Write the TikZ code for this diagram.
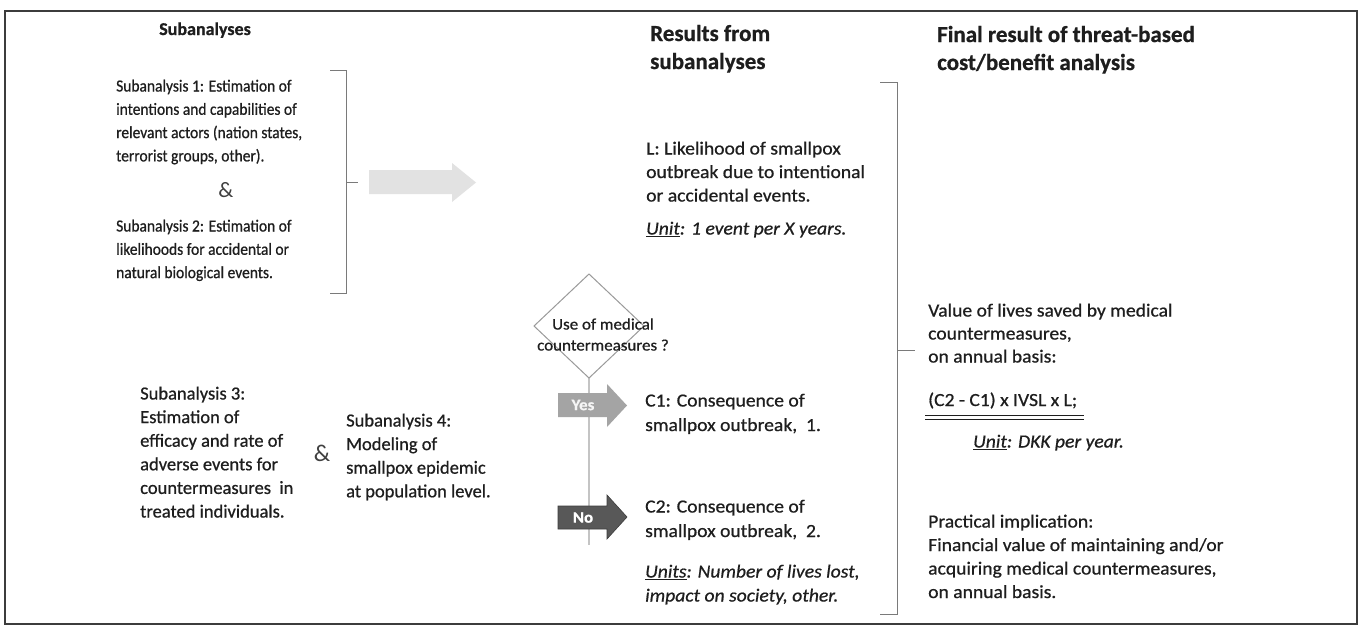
\documentclass[tikz,border=0pt]{standalone}
\usepackage{fontspec}
\setmainfont{Carlito}[FakeBold=0.7]
\newfontfamily\fcond{Carlito}[FakeStretch=0.91,FakeBold=0.7]
\newfontfamily\fwide{Carlito}[FakeStretch=1.06,FakeBold=0.7]
\newfontfamily\famp{Carlito}
\newcommand\mylinesl[1]{\vtop{\halign{##\hfil\cr#1\crcr}}}
\newcommand\mylinesc[1]{\vtop{\halign{\hfil##\hfil\cr#1\crcr}}}
\definecolor{ink}{HTML}{1E1E1E}
\definecolor{framec}{HTML}{3C3C3C}
\definecolor{brackc}{HTML}{7A7A7A}
\definecolor{diamc}{HTML}{9A9A9A}
\definecolor{vlinec}{HTML}{C4C4C4}
\definecolor{bigarr}{HTML}{E2E2E2}
\definecolor{yesc}{HTML}{A4A4A4}
\definecolor{noc}{HTML}{585858}
\begin{document}
\begin{tikzpicture}[x=1pt,y=-1pt,
  txt/.style={inner sep=0pt, anchor=base west, text=ink},
  condtxt/.style={txt, font={\fcond\fontsize{17}{23.3}\selectfont}},
  normtxt/.style={txt, font={\fontsize{18.5}{23.6}\selectfont}},
  widetxt/.style={txt, font={\fwide\fontsize{18.5}{24.5}\selectfont}},
  headsmall/.style={inner sep=0pt, anchor=base, text=ink, font={\bfseries\fontsize{18}{22}\selectfont}},
  headbig/.style={txt, font={\bfseries\fontsize{23}{28}\selectfont}},
  ampstyle/.style={inner sep=0pt, text=ink!85, font={\famp\fontsize{22}{24}\selectfont}},
  brack/.style={draw=brackc, line width=1pt},
  lbl/.style={inner sep=0pt, text=white, font={\bfseries\fwide\fontsize{16}{18}\selectfont}}
]
\useasboundingbox (0,0) rectangle (1360,627);
\fill[white] (0,0) rectangle (1360,627);
% outer frame
\draw[framec, line width=2.2pt] (5,11) rectangle (1357,624);

% headers
\node[headsmall] (hsub) at (205,35) {Subanalyses};
\node[headbig] (hres) at (650,41) {\mylinesl{Results from\cr subanalyses}};
\node[headbig] (hfin) at (937,42) {\mylinesl{Final result of threat-based\cr cost/benefit analysis}};

% upper-left subanalyses
\node[condtxt] (s1) at (116,91.5) {\mylinesl{Subanalysis 1: Estimation of\cr intentions and capabilities of\cr relevant actors (nation states,\cr terrorist groups, other).}};
\node[ampstyle] (amp1) at (226,190) {\&};
\node[condtxt] (s2) at (116,231.5) {\mylinesl{Subanalysis 2: Estimation of\cr likelihoods for accidental or\cr natural biological events.}};

% bracket 1
\coordinate (b1t) at (346,70);
\coordinate (b1b) at (346,293);
\coordinate (b1m) at (346,182);
\draw[brack] (330,70) -- (b1t) -- (b1b) -- (330,293);
\draw[brack] (b1m) -- (358,182);

% big arrow
\fill[bigarr] (369,170) -- (452,170) -- (452,163) -- (476,182.5) -- (452,202) -- (452,194) -- (369,194) -- cycle;

% L result
\node[widetxt, font={\fwide\fontsize{18.5}{23.5}\selectfont}] (L) at (646,154.5) {\mylinesl{L: Likelihood of smallpox\cr outbreak due to intentional\cr or accidental events.}};
\node[widetxt] (Lunit) at (646,234.5) {\itshape\underline{Unit}: 1 event per X years.};

% bracket 2
\coordinate (b2t) at (897,82);
\coordinate (b2b) at (897,614);
\coordinate (b2m) at (897,350);
\draw[brack] (880,82) -- (b2t) -- (b2b) -- (880,614);
\draw[brack] (b2m) -- (915,350);

% decision diamond
\draw[vlinec, line width=1.6pt] (589,378) -- (589,545);
\draw[diamc, line width=1pt] (589,274) -- (644,326) -- (589,378) -- (534,326) -- cycle;
\node[inner sep=0pt, anchor=base, text=ink, font={\fwide\fontsize{16}{21}\selectfont}] (q) at (603,329.5) {\mylinesc{Use of medical\cr countermeasures ?}};

% yes / no arrows
\fill[yesc] (558,393) -- (607,393) -- (607,384) -- (627,405.5) -- (607,427) -- (607,417) -- (558,417) -- cycle;
\node[lbl, text=white!92!gray] (yes) at (583,405) {Yes};
\fill[noc, draw=framec, line width=0.6pt] (558,506) -- (607,506) -- (607,495) -- (627,517) -- (607,539) -- (607,529) -- (558,529) -- cycle;
\node[lbl] (no) at (583,517.5) {No};

% C1 / C2
\node[widetxt] (c1) at (645,406.5) {\mylinesl{C1: Consequence of\cr smallpox outbreak,\ \ 1.}};
\node[widetxt] (c2) at (645,512.5) {\mylinesl{C2: Consequence of\cr smallpox outbreak,\ \ 2.}};
\node[widetxt, font={\fwide\itshape\fontsize{18.5}{24}\selectfont}] (units) at (645,577.5) {\mylinesl{\underline{Units}: Number of lives lost,\cr impact on society, other.}};

% lower-left subanalyses
\node[normtxt] (s3) at (140,399.5) {\mylinesl{Subanalysis 3:\cr Estimation of\cr efficacy and rate of\cr adverse events for\cr countermeasures\ \ in\cr treated individuals.}};
\node[ampstyle, font={\famp\fontsize{24}{26}\selectfont}] (amp2) at (322,453) {\&};
\node[normtxt] (s4) at (346,426.5) {\mylinesl{Subanalysis 4:\cr Modeling of\cr smallpox epidemic\cr at population level.}};

% final result column
\node[widetxt, font={\fwide\fontsize{18.5}{23}\selectfont}] (val) at (928,316.5) {\mylinesl{Value of lives saved by medical\cr countermeasures,\cr on annual basis:}};
\node[widetxt] (formula) at (928,406) {(C2 - C1) x IVSL x L;};
\draw[ink, line width=0.9pt] (925,415) -- (1084,415);
\draw[ink, line width=0.9pt] (925,419) -- (1084,419);
\node[widetxt] (dkk) at (973,447.5) {\itshape\underline{Unit}: DKK per year.};
\node[widetxt, font={\fwide\fontsize{18.5}{23.5}\selectfont}] (pract) at (928,527.5) {\mylinesl{Practical implication:\cr Financial value of maintaining and/or\cr acquiring medical countermeasures,\cr on annual basis.}};
\end{tikzpicture}
\end{document}
